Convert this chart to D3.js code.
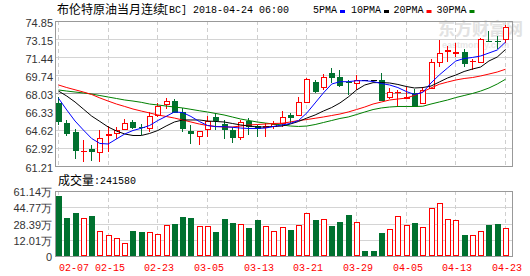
<!DOCTYPE html>
<meta charset="utf-8">
<html>
<head>
    <title>布伦特原油当月连续[BC]</title>
</head>
<style>
    *{ margin:0; padding:0;}
    body{ background:#fff;}
    svg text{ font-family:'Liberation Sans', Arial, sans-serif;}
    .cjk{ font-family:'Noto Sans CJK SC', sans-serif;}
    .mono{ font-family:'Liberation Mono', monospace;}
</style>
<script src="https://cdn.jsdelivr.net/npm/d3@7/dist/d3.min.js"></script>
<body>
<div id="chart"></div>
<script type="text/javascript">

    var dates = ["02-07","02-08","02-09","02-12","02-13","02-14","02-15","02-16","02-19","02-20","02-21","02-22","02-23","02-26","02-27","02-28",
        "03-01","03-02","03-05","03-06","03-07","03-08","03-09","03-12","03-13","03-14","03-15","03-16","03-19","03-20","03-21","03-22","03-23","03-26","03-27","03-28","03-29","03-30","03-31",
        "04-02","04-03","04-04","04-05","04-06","04-09","04-10","04-11","04-12","04-13","04-16","04-17","04-18","04-19","04-20","04-23"];

    var open  = [67.11,65.23,64.44,62.60,62.81,62.55,64.12,64.34,64.66,65.38,64.90,64.76,66.01,67.01,67.35,66.26,64.53,64.06,64.66,65.79,65.16,64.60,63.97,65.47,64.95,64.85,65.00,65.23,66.01,66.01,67.26,69.14,68.67,69.93,69.55,69.15,69.05,69.30,69.30,69.30,67.67,68.15,67.60,68.05,67.11,68.55,71.02,72.05,71.85,71.96,71.10,71.02,73.00,73.00,73.13];
    var high  = [67.67,65.54,64.66,63.66,63.18,64.60,65.00,64.85,65.63,65.54,65.20,66.32,67.11,67.63,67.48,66.64,65.07,64.50,65.91,66.17,65.54,64.85,65.54,65.70,65.07,65.30,65.40,66.41,66.22,67.67,69.45,69.30,69.86,70.40,70.24,69.30,69.77,69.30,69.30,70.00,68.52,68.35,68.60,68.42,68.67,71.25,73.06,72.50,72.80,72.19,71.25,73.22,73.94,73.44,74.47];
    var low   = [65.07,64.06,61.84,61.61,61.71,61.61,62.50,63.75,64.60,64.66,64.10,64.44,65.85,66.54,66.22,64.44,63.25,63.18,63.94,64.60,63.75,63.40,63.66,64.10,63.97,63.97,64.70,64.90,65.28,65.91,67.11,68.05,68.36,68.99,68.67,67.90,68.36,69.30,69.30,67.40,67.49,66.80,67.50,66.80,67.05,68.45,70.50,71.02,71.50,70.50,70.20,70.87,72.90,72.19,72.75];
    var close = [65.44,64.34,62.71,62.62,62.62,63.87,64.20,64.60,65.23,64.91,64.84,65.91,66.85,67.32,66.32,64.76,64.29,64.46,65.47,65.54,64.66,63.91,65.38,64.97,64.82,64.95,65.12,65.79,65.79,67.26,69.37,68.29,69.61,69.55,68.83,69.10,69.30,69.30,69.30,67.46,68.20,68.20,67.70,66.85,68.36,71.00,71.87,72.10,71.90,70.93,71.12,73.13,72.98,72.98,74.26];

    // 成交量, 万
    var volume = [56.5,34.6,39.6,34.0,36.3,21.4,17.1,14.1,9.4,21.4,20.4,20.4,18.4,27.0,28.3,35.3,34.3,26.3,26.3,20.4,33.3,29.6,28.3,24.4,32.3,26.3,21.4,25.6,22.4,27.0,39.0,32.3,33.0,26.3,30.3,37.3,30.0,1.5,1.5,19.7,23.1,36.3,27.3,29.6,25.1,43.9,48.9,33.0,32.3,17.4,17.1,21.1,27.3,28.3,24.158];

    var ma5  = [67.58,66.48,65.44,64.60,63.80,63.33,63.28,63.75,64.22,64.55,64.76,65.02,65.49,65.88,66.29,66.24,65.87,65.40,65.02,64.91,64.91,64.85,64.78,64.74,64.74,64.78,64.93,65.07,65.21,65.49,66.20,67.14,68.08,68.92,69.14,69.14,69.23,69.23,69.16,68.97,68.83,68.59,68.22,67.94,68.12,69.02,69.77,70.43,71.09,71.32,71.42,71.56,71.84,72.12,72.87];
    var ma10 = [68.26,67.79,67.23,66.57,65.91,65.40,64.88,64.50,64.22,64.08,64.08,64.27,64.55,64.97,65.35,65.54,65.54,65.54,65.44,65.40,65.35,65.21,65.07,64.97,64.88,64.88,64.93,64.97,65.16,65.40,65.72,66.01,66.38,66.71,67.14,67.70,68.36,68.83,69.05,69.06,69.02,68.88,68.69,68.55,68.59,68.73,69.11,69.49,69.77,70.10,70.33,70.52,71.09,71.46,72.17];
    var ma20 = [68.83,68.59,68.38,68.17,67.94,67.61,67.32,67.04,66.81,66.57,66.38,66.20,66.01,65.87,65.72,65.54,65.35,65.16,65.02,64.93,64.88,64.88,64.97,65.07,65.11,65.16,65.21,65.23,65.35,65.49,65.58,65.70,65.82,65.96,66.10,66.29,66.52,66.76,67.04,67.23,67.42,67.51,67.60,67.85,68.20,68.55,68.90,69.11,69.30,69.44,69.53,69.68,69.86,70.05,70.31];
    var ma30 = [68.36,68.26,68.17,68.08,67.98,67.84,67.70,67.56,67.42,67.32,67.20,67.04,66.95,66.85,66.76,66.67,66.54,66.41,66.29,66.15,66.01,65.82,65.63,65.49,65.35,65.25,65.16,65.07,64.97,64.93,64.97,65.11,65.30,65.49,65.68,65.82,66.05,66.29,66.52,66.67,66.76,66.81,66.81,66.81,66.83,67.04,67.23,67.42,67.65,67.84,68.03,68.26,68.55,68.92,69.37];

    var priceTicks = [74.85,73.15,71.44,69.74,68.03,66.33,64.62,62.92,61.21];
    var volTicks = [61.14,44.77,28.39,12.01];
    var volTickLabels = ["61.14万","44.77万","28.39万","12.01万"];
    var dateTicks = ["02-07","02-15","02-23","03-05","03-13","03-21","03-29","04-05","04-13","04-23"];

    var maNames = ["5PMA","10PMA","20PMA","30PMA"];
    var maColors = ["#0000ff","#000000","#ff0000","#008000"];

    var upColor = "#ff0000", downColor = "#00712f";

    var svg = d3.select("#chart").append("svg").attr("width", 530).attr("height", 276);

    var L = 55.5, R = 512.5, pTop = 21, pBot = 166, vTop = 191, vBot = 256;

    var x = d3.scalePoint().domain(dates).range([58, 505]);
    var y = d3.scaleLinear().domain([61.21, 74.85]).range([pBot, pTop]);
    var yv = d3.scaleLinear().domain([-3.4, 61.14]).range([vBot, vTop]);
    function px(d){ return Math.round(x(d)); }
    function snap(v){ return Math.round(v) + 0.5; }

    // watermark
    svg.append("text").attr("class", "cjk").attr("x", 438).attr("y", 35)
        .style("font-size", "17px").style("font-weight", "bold").style("fill", "#e2e2e2").text("东方财富网");
    svg.append("text").attr("x", 442).attr("y", 48)
        .style("font-size", "9px").style("font-weight", "bold").style("fill", "#e8e8e8").text("eastmoney.com");

    // grid
    var grid = svg.append("g");
    grid.selectAll(".hp").data(priceTicks.slice(1, -1)).enter().append("line")
        .attr("x1", L).attr("x2", R)
        .attr("y1", function(d){ return snap(y(d)); }).attr("y2", function(d){ return snap(y(d)); })
        .style("stroke", function(d){ return d === 68.03 ? "#999" : "#d4d4d4"; });
    grid.selectAll(".hv").data(volTicks.slice(1)).enter().append("line")
        .attr("x1", L).attr("x2", R)
        .attr("y1", function(d){ return snap(yv(d)); }).attr("y2", function(d){ return snap(yv(d)); })
        .style("stroke", "#d4d4d4");
    dateTicks.forEach(function(d){
        [[pTop, pBot], [vTop, vBot]].forEach(function(r){
            grid.append("line").attr("x1", px(d) + 0.5).attr("x2", px(d) + 0.5)
                .attr("y1", r[0]).attr("y2", r[1])
                .style("stroke", "#cfcfcf").style("stroke-dasharray", "4,3");
        });
    });

    // frames
    svg.append("rect").attr("x", L).attr("y", pTop + 0.5).attr("width", R - L).attr("height", pBot - pTop)
        .style("fill", "none").style("stroke", "#999");
    svg.append("rect").attr("x", L).attr("y", vTop + 0.5).attr("width", R - L).attr("height", vBot - vTop)
        .style("fill", "none").style("stroke", "#999");

    // candles
    var candles = svg.append("g");
    dates.forEach(function(d, i){
        var cx = px(d), o = open[i], c = close[i];
        if (o === c && high[i] === low[i]) {
            candles.append("line").attr("x1", cx - 2).attr("x2", cx + 4)
                .attr("y1", snap(y(c))).attr("y2", snap(y(c))).style("stroke", "#000");
            return;
        }
        var col = c >= o ? upColor : downColor;
        candles.append("line").attr("x1", cx + 0.5).attr("x2", cx + 0.5)
            .attr("y1", Math.round(y(high[i]))).attr("y2", Math.round(y(low[i])))
            .style("stroke", col);
        var top = Math.round(y(Math.max(o, c))), bot = Math.round(y(Math.min(o, c)));
        if (c >= o) {
            if (bot - top < 1) {
                candles.append("line").attr("x1", cx - 2).attr("x2", cx + 4)
                    .attr("y1", top + 0.5).attr("y2", top + 0.5).style("stroke", col);
            } else {
                candles.append("rect").attr("x", cx - 1.5).attr("y", top + 0.5)
                    .attr("width", 5).attr("height", bot - top)
                    .style("fill", "#fff").style("stroke", col);
            }
        } else {
            candles.append("rect").attr("x", cx - 2).attr("y", top)
                .attr("width", 6).attr("height", Math.max(1, bot - top + 1))
                .style("fill", col);
        }
    });

    // moving averages
    [ma30, ma20, ma10, ma5].forEach(function(ma, k){
        var line = d3.line().x(function(d, i){ return x(dates[i]) + 0.5; }).y(function(d){ return y(d); });
        svg.append("path").datum(ma).attr("d", line)
            .style("fill", "none").style("stroke", maColors[3 - k]).style("stroke-width", 1);
    });

    // volume bars
    var bars = svg.append("g");
    dates.forEach(function(d, i){
        var cx = px(d), top = Math.round(yv(volume[i]));
        if (close[i] > open[i]) {
            bars.append("rect").attr("x", cx - 1.5).attr("y", top + 0.5)
                .attr("width", 5).attr("height", vBot - top - 1)
                .style("fill", "#fff").style("stroke", upColor);
        } else {
            bars.append("rect").attr("x", cx - 2).attr("y", top)
                .attr("width", 6).attr("height", vBot - top)
                .style("fill", downColor);
        }
    });

    // axis labels
    svg.selectAll(".pl").data(priceTicks).enter().append("text")
        .attr("x", 53).attr("y", function(d){ return y(d) + 5.5; })
        .attr("text-anchor", "end").style("font-size", "11px").style("fill", "#333")
        .text(function(d){ return d.toFixed(2); });
    svg.selectAll(".vl").data(volTicks).enter().append("text")
        .attr("x", 52).attr("y", function(d){ return yv(d) + 5; })
        .attr("text-anchor", "end").style("font-size", "11px").style("fill", "#333")
        .text(function(d, i){ return volTickLabels[i]; });
    svg.append("text").attr("x", 52).attr("y", vBot + 4.5)
        .attr("text-anchor", "end").style("font-size", "11px").style("fill", "#333").text("0");

    svg.selectAll(".dl").data(dateTicks).enter().append("text").attr("class", "mono")
        .attr("x", function(d, i){ return i === 0 ? 59 : px(d) + 2; })
        .attr("y", 271)
        .attr("text-anchor", function(d, i){ return i === 0 ? "start" : "middle"; })
        .style("font-size", "10px").style("fill", "#ff0000")
        .text(function(d){ return d; });

    // title + legend
    svg.append("text").attr("class", "cjk").attr("x", 57).attr("y", 13.5)
        .style("font-size", "12px").style("fill", "#000").text("布伦特原油当月连续");
    svg.append("text").attr("class", "mono").attr("x", 163).attr("y", 13)
        .style("font-size", "10px").style("fill", "#000").text("[BC] 2018-04-24 06:00");

    var legX = [313, 351, 393.5, 436.5];
    maNames.forEach(function(n, i){
        svg.append("text").attr("class", "mono").attr("x", legX[i]).attr("y", 13)
            .style("font-size", "10px").style("fill", "#000").text(n);
        svg.append("rect").attr("x", legX[i] + n.length * 6 + 3).attr("y", 10)
            .attr("width", 5).attr("height", 3).style("fill", maColors[i]);
    });

    svg.append("text").attr("class", "cjk").attr("x", 58).attr("y", 184.5)
        .style("font-size", "12px").style("fill", "#000").text("成交量");
    svg.append("text").attr("class", "mono").attr("x", 94).attr("y", 184)
        .style("font-size", "10px").style("fill", "#000").text(":241580");

</script>
</body>
</html>
